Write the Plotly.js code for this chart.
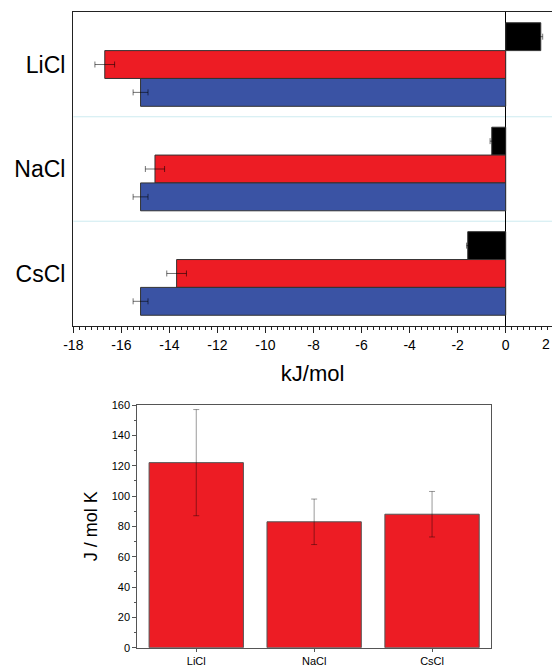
<!DOCTYPE html>
<html>
<head>
<meta charset="utf-8">
<script src="https://cdn.plot.ly/plotly-3.0.1.min.js"></script>
<style>html,body{margin:0;padding:0;background:#fff;overflow:hidden}#chart{width:552px;height:666px}</style>
</head>
<body>
<div id="chart"></div>
<script>
// ---- data (top panel, kJ/mol) ----
const salts = ['LiCl', 'NaCl', 'CsCl'];
const blackVals = [1.46, -0.58, -1.58];
const blackErr  = [0.08, 0.07, 0.05];
const redVals   = [-16.69, -14.6, -13.7];
const redErr    = [0.41, 0.40, 0.41];
const blueVals  = [-15.2, -15.2, -15.2];
const blueErr   = [0.31, 0.31, 0.31];
const topTickVals = [-18, -16, -14, -12, -10, -8, -6, -4, -2, 0];
const topTickText = ['-18', '-16', '-14', '-12', '-10', '-8', '-6', '-4', '-2', '0'];
// ---- data (bottom panel, J / mol K) ----
const entropyVals = [122, 83, 88];
const entropyErr  = [35, 15, 15];

const W = 552, H = 666;
const FONT = 'Arial, "Liberation Sans", Helvetica, sans-serif';
const errTop = {type: 'data', color: 'rgba(0,0,0,0.55)', thickness: 1, width: 3};

function hbar(vals, errs, color) {
  return {
    type: 'bar', orientation: 'h', y: salts, x: vals,
    xaxis: 'x', yaxis: 'y',
    marker: {color: color, line: {color: '#333', width: 1}},
    error_x: Object.assign({array: errs}, errTop),
    hoverinfo: 'x+y', showlegend: false
  };
}

const traces = [
  hbar(blackVals, blackErr, '#000000'),
  hbar(redVals, redErr, '#ed1c24'),
  hbar(blueVals, blueErr, '#3a53a4'),
  {
    type: 'bar', x: salts, y: entropyVals, xaxis: 'x2', yaxis: 'y2',
    marker: {color: '#ed1c24', line: {color: '#555', width: 1}},
    error_y: {type: 'data', array: entropyErr, color: 'rgba(0,0,0,0.4)', thickness: 1, width: 3},
    showlegend: false
  }
];

const layout = {
  width: W, height: H,
  margin: {l: 0, r: 0, t: 0, b: 0},
  paper_bgcolor: '#fff', plot_bgcolor: '#fff',
  font: {family: FONT, color: '#000'},
  barmode: 'group', bargap: 0.2, bargroupgap: 0,
  xaxis: {
    domain: [73.3 / W, 1], range: [-18, 1.927],
    tickmode: 'array', tickvals: topTickVals, ticktext: topTickText,
    ticks: 'outside', ticklen: 6, tickwidth: 1, tickcolor: '#222',
    minor: {dtick: 0.25, tick0: 0, ticks: 'outside', ticklen: 3, tickcolor: '#222', showgrid: false},
    showline: true, linecolor: '#222', linewidth: 1.3, mirror: true,
    showgrid: false, zeroline: true, zerolinecolor: '#000', zerolinewidth: 1,
    tickfont: {size: 14, family: FONT},
    title: {text: 'kJ/mol', font: {size: 22, family: FONT}, standoff: 13},
    anchor: 'y', fixedrange: true
  },
  yaxis: {
    domain: [1 - 325.7 / H, 1 - 12.3 / H],
    type: 'category', categoryorder: 'array', categoryarray: salts,
    range: [2.5, -0.5],
    ticks: '', ticklabelstandoff: 2,
    showline: true, linecolor: '#222', linewidth: 1.3, mirror: false,
    showgrid: false, zeroline: false,
    tickfont: {size: 23, family: FONT},
    anchor: 'x', fixedrange: true
  },
  xaxis2: {
    domain: [137.3 / W, 491 / W],
    type: 'category', range: [-0.5, 2.5],
    ticks: 'outside', ticklen: 3, tickcolor: '#555',
    showline: true, linecolor: '#555', linewidth: 1, mirror: true,
    showgrid: false, zeroline: false,
    tickfont: {size: 11, family: FONT},
    anchor: 'y2', fixedrange: true
  },
  yaxis2: {
    domain: [1 - 647.7 / H, 1 - 405 / H],
    range: [0, 160], dtick: 20, tick0: 0,
    ticks: 'outside', ticklen: 4, tickcolor: '#555',
    minor: {dtick: 10, ticks: 'outside', ticklen: 2, tickcolor: '#555', showgrid: false},
    showline: true, linecolor: '#555', linewidth: 1, mirror: true,
    showgrid: false, zeroline: false,
    tickfont: {size: 11, family: FONT},
    title: {text: 'J / mol K', font: {size: 18, family: FONT}, standoff: 9},
    anchor: 'x2', fixedrange: true
  },
  shapes: [0.5, 1.5].map(v => ({
    type: 'line', xref: 'x domain', yref: 'y', x0: 0, x1: 1, y0: v, y1: v,
    line: {color: '#cdebf0', width: 1}, layer: 'below'
  })),
  annotations: [{
    text: '2', showarrow: false, xref: 'paper', yref: 'paper',
    x: 1, y: 1 - 344 / H, xanchor: 'right', yanchor: 'middle',
    font: {size: 14, family: FONT, color: '#000'}
  }]
};

Plotly.newPlot('chart', traces, layout, {displayModeBar: false, staticPlot: true});
</script>
</body>
</html>
